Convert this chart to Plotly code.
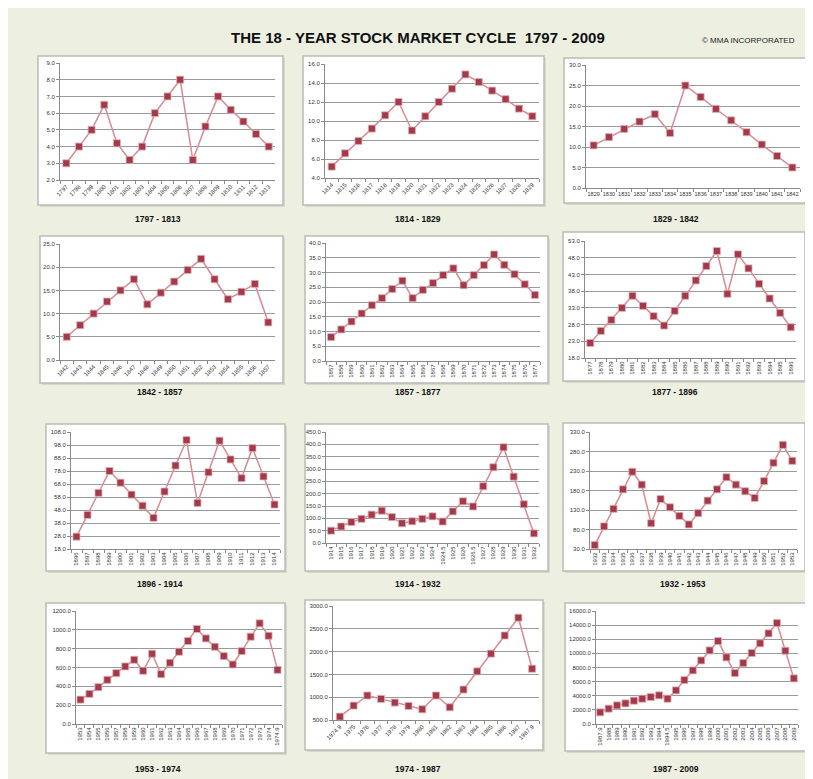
import plotly.graph_objects as go

W, H = 813, 779

# ---------------- data ----------------
x1 = ["1797", "1798", "1799", "1800", "1801", "1802", "1803", "1804", "1805", "1806", "1807", "1808", "1809", "1810", "1811", "1812", "1813"]
y1 = [3.0, 4.0, 5.0, 6.5, 4.2, 3.2, 4.0, 6.0, 7.0, 8.0, 3.2, 5.2, 7.0, 6.2, 5.5, 4.75, 4.0]

x2 = ["1814", "1815", "1816", "1817", "1818", "1819", "1820", "1821", "1822", "1823", "1824", "1825", "1826", "1827", "1828", "1829"]
y2 = [5.2, 6.6, 7.9, 9.2, 10.6, 12.0, 9.0, 10.5, 12.0, 13.4, 14.9, 14.1, 13.2, 12.3, 11.3, 10.5]

x3 = ["1829", "1830", "1831", "1832", "1833", "1834", "1835", "1836", "1837", "1838", "1839", "1840", "1841", "1842"]
y3 = [10.4, 12.4, 14.4, 16.2, 18.0, 13.4, 25.0, 22.2, 19.3, 16.5, 13.6, 10.6, 7.8, 5.0]

x4 = ["1842", "1843", "1844", "1845", "1846", "1847", "1848", "1849", "1850", "1851", "1852", "1853", "1854", "1855", "1856", "1857"]
y4 = [5.0, 7.5, 10.0, 12.6, 15.0, 17.4, 12.0, 14.5, 16.9, 19.4, 21.8, 17.4, 13.1, 14.7, 16.4, 8.1]

x5 = ["1857", "1858", "1859", "1860", "1861", "1862", "1863", "1864", "1865", "1866", "1867", "1868", "1869", "1870", "1871", "1872", "1873", "1874", "1875", "1876", "1877"]
y5 = [8.1, 10.7, 13.4, 16.1, 18.9, 21.3, 24.4, 27.2, 21.3, 24.1, 26.4, 29.1, 31.4, 25.7, 29.1, 32.5, 36.1, 32.6, 29.4, 26.0, 22.4]

x6 = ["1877", "1878", "1879", "1880", "1881", "1882", "1883", "1884", "1885", "1886", "1887", "1888", "1889", "1890", "1891", "1892", "1893", "1894", "1895", "1896"]
y6 = [22.5, 26.1, 29.4, 33.0, 36.6, 33.6, 30.5, 27.7, 32.1, 36.6, 41.2, 45.5, 50.0, 37.2, 49.0, 44.8, 40.2, 35.8, 31.5, 27.2]

x7 = ["1896", "1897", "1898", "1899", "1900", "1901", "1902", "1903", "1904", "1905", "1906", "1907", "1908", "1909", "1910", "1911", "1912", "1913", "1914"]
y7 = [27.5, 44.2, 61.2, 78.0, 69.0, 59.8, 51.3, 42.0, 62.2, 82.2, 101.8, 53.4, 77.0, 101.3, 86.9, 72.5, 95.6, 73.8, 52.2]

x8 = ["1914", "1915", "1916", "1917", "1918", "1919", "1920", "1921", "1922", "1923", "1924", "1924.5", "1925", "1926", "1926.5", "1927", "1928", "1929", "1930", "1931", "1932"]
y8 = [50, 67, 85, 98, 115, 131, 105, 80, 88, 98, 108, 87, 128, 169, 148, 230, 307, 388, 269, 157, 39]

x9 = ["1932", "1933", "1934", "1935", "1936", "1937", "1938", "1939", "1940", "1941", "1942", "1943", "1944", "1945", "1946", "1947", "1948", "1949", "1950", "1951", "1952", "1953"]
y9 = [40, 88, 133, 183, 228, 195, 96, 158, 137, 115, 93, 122, 154, 183, 214, 195, 178, 161, 204, 251, 297, 256]

x10 = ["1953", "1954", "1955", "1956", "1957", "1958", "1959", "1960", "1961", "1962", "1963", "1964", "1965", "1966", "1967", "1968", "1969", "1970", "1971", "1972", "1973", "1974", "1974.9"]
y10 = [259, 320, 391, 469, 540, 611, 682, 565, 746, 529, 650, 767, 881, 1009, 909, 820, 721, 632, 774, 927, 1069, 937, 575]

x11 = ["1974.9", "1975", "1976", "1977", "1978", "1979", "1980", "1981", "1982", "1983", "1984", "1985", "1986", "1987", "1987.9"]
y11 = [574, 816, 1037, 963, 882, 809, 735, 1037, 779, 1168, 1566, 1956, 2353, 2743, 1625]

x12 = ["1987.9", "1988", "1989", "1990", "1991", "1992", "1993", "1994", "1994.5", "1995", "1996", "1997", "1998", "1999", "2000", "2001", "2002", "2003", "2004", "2005", "2006", "2007", "2008", "2009"]
y12 = [1650, 2170, 2640, 2920, 3300, 3580, 3820, 4060, 3580, 4760, 6220, 7590, 9000, 10420, 11740, 9430, 7210, 8630, 10050, 11420, 12830, 14290, 10370, 6460]

titles = ["1797 - 1813", "1814 - 1829", "1829 - 1842",
          "1842 - 1857", "1857 - 1877", "1877 - 1896",
          "1896 - 1914", "1914 - 1932", "1932 - 1953",
          "1953 - 1974", "1974 - 1987", "1987 - 2009"]

# ---------------- layout (pixels) ----------------
# plot area (l, r, t, b), frame (l, r, t, b), title (x, y), yrange, dtick, tickangle
panels = [
    (x1, y1, (52, 267, 55, 172), (30, 275, 48, 197), (150, 211), (2, 9), 1, -45),
    (x2, y2, (317, 531, 56, 170), (295, 536, 48, 197), (410, 211), (4, 16), 2, -45),
    (x3, y3, (578, 792, 57, 180), (556, 800, 50, 195), (668, 211), (0, 30), 5, 0),
    (x4, y4, (52, 267, 236, 352), (32, 275, 228, 375), (152, 384), (0, 25), 5, -45),
    (x5, y5, (318, 532, 235, 353), (297, 540, 228, 375), (410, 384), (0, 40), 5, -90),
    (x6, y6, (577, 788, 233, 350), (555, 797, 224, 373), (667, 384), (18, 53), 5, -90),
    (x7, y7, (63, 272, 424, 541), (38, 277, 416, 563), (152, 576), (18, 108), 10, -90),
    (x8, y8, (318, 531, 424, 535), (297, 540, 416, 563), (410, 576), (0, 450), 50, -90),
    (x9, y9, (582, 789, 424, 541), (555, 797, 415, 563), (675, 576), (30, 330), 50, -90),
    (x10, y10, (68, 274, 603, 716), (38, 277, 595, 745), (150, 761), (0, 1200), 200, -90),
    (x11, y11, (325, 531, 598, 712), (297, 535, 592, 742), (410, 761), (500, 3000), 500, -45),
    (x12, y12, (588, 790, 603, 716), (557, 798, 595, 743), (668, 761), (0, 16000), 2000, -90),
]

LINE_COLOR = "#d98a90"
MARKER_COLOR = "#a3394a"
GRID_COLOR = "#9a9a9a"
AXIS_COLOR = "#8a8a8a"
FONT = "Liberation Sans, Arial, sans-serif"

fig = go.Figure()
shapes = []
annotations = []
layout = {}

for i, (xs, ys, plot, frame, tpos, yr, dt, ang) in enumerate(panels, start=1):
    sfx = "" if i == 1 else str(i)
    fig.add_trace(go.Scatter(
        x=xs, y=ys, mode="lines+markers",
        xaxis="x" + sfx, yaxis="y" + sfx,
        line=dict(color=LINE_COLOR, width=1.5),
        marker=dict(symbol="square", size=7, color=MARKER_COLOR,
                    line=dict(color="#e0b0b4", width=0.8)),
        showlegend=False, hoverinfo="x+y",
    ))
    l, r, t, b = plot
    layout["xaxis" + sfx] = dict(
        domain=[l / W, r / W], anchor="y" + sfx, type="category",
        range=[-0.5, len(xs) - 0.5], tickangle=ang,
        tickfont=dict(size=6 if ang != 0 else 5.5, color="#333333", family=FONT),
        showline=True, linecolor=AXIS_COLOR, linewidth=1,
        ticks="outside", tickson="boundaries", ticklen=3, tickcolor=AXIS_COLOR,
        showgrid=False, zeroline=False, automargin=False, fixedrange=True,
    )
    layout["yaxis" + sfx] = dict(
        domain=[1 - b / H, 1 - t / H], anchor="x" + sfx,
        range=[yr[0], yr[1]], tick0=yr[0], dtick=dt, tickformat=".1f",
        tickfont=dict(size=6, color="#333333", family=FONT),
        showline=True, linecolor=AXIS_COLOR, linewidth=1,
        ticks="outside", ticklen=3, tickcolor=AXIS_COLOR,
        showgrid=True, gridcolor=GRID_COLOR, gridwidth=1.3,
        zeroline=False, automargin=False, fixedrange=True,
    )
    fl, fr, ft, fb = frame
    # soft shadow then frame
    shapes.append(dict(type="rect", xref="paper", yref="paper", layer="below",
                       x0=(fl + 2) / W, x1=(fr + 2) / W, y0=1 - (fb + 2) / H, y1=1 - (ft + 2) / H,
                       fillcolor="#d6d9cb", line=dict(width=0)))
    shapes.append(dict(type="rect", xref="paper", yref="paper", layer="below",
                       x0=fl / W, x1=fr / W, y0=1 - fb / H, y1=1 - ft / H,
                       fillcolor="white", line=dict(color="#b9bcb2", width=1.5)))
    annotations.append(dict(text="<b>" + titles[i - 1] + "</b>", xref="paper", yref="paper",
                            x=tpos[0] / W, y=1 - tpos[1] / H, showarrow=False,
                            xanchor="center", yanchor="middle",
                            font=dict(size=8.5, color="#111111", family=FONT)))

annotations.append(dict(text="<b>THE 18 - YEAR STOCK MARKET CYCLE  1797 - 2009</b>",
                        xref="paper", yref="paper", x=410 / W, y=1 - 30 / H,
                        showarrow=False, xanchor="center", yanchor="middle",
                        font=dict(size=15, color="#111111", family=FONT)))
annotations.append(dict(text="© MMA INCORPORATED", xref="paper", yref="paper",
                        x=740 / W, y=1 - 33 / H, showarrow=False,
                        xanchor="center", yanchor="middle",
                        font=dict(size=8, color="#222222", family=FONT)))

fig.update_layout(
    width=W, height=H,
    margin=dict(l=0, r=0, t=0, b=0),
    paper_bgcolor="#edf0e1", plot_bgcolor="white",
    shapes=shapes, annotations=annotations,
    showlegend=False,
    **layout,
)

fig.write_html("out.html")
